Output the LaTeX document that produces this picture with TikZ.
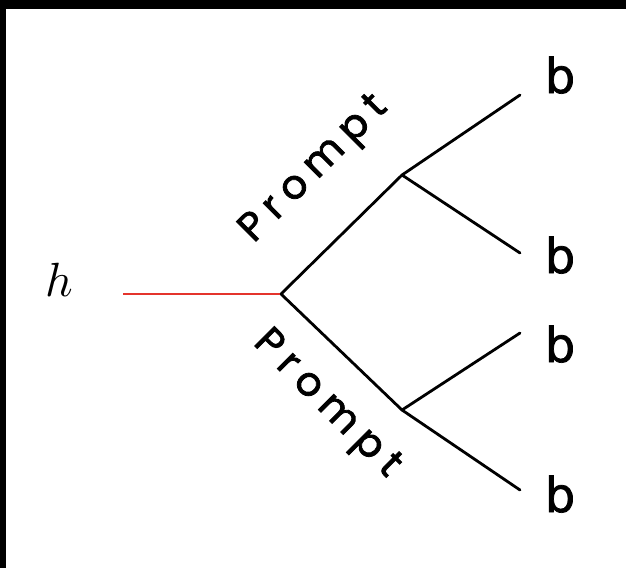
\documentclass[tikz,border=0pt]{standalone}
\usepackage{fontspec}
\usepackage{tikz}
\usetikzlibrary{positioning}
\usepackage{xcolor}
\newfontfamily\promptfont[LetterSpace=22,FakeBold=2]{Poppins}
\newfontfamily\leaffont[FakeBold=1.5]{DejaVu Sans}
\definecolor{rootred}{RGB}{228,52,44}

\begin{document}
\begin{tikzpicture}[x=1pt,y=-1pt,
	branch/.style={black,line width=2.8pt,line cap=round},
	leaflabel/.style={font=\leaffont\fontsize{48}{48}\selectfont,inner sep=0pt,anchor=base},
	promptlabel/.style={font=\promptfont\fontsize{40}{40}\selectfont,inner sep=0pt}]
		
		\useasboundingbox (0,0) rectangle (626,568);
		
		% frame
		\fill[black]
		(0,0) rectangle (626,9);
		\fill[black]
		(0,0) rectangle (6,568);
		
		\coordinate (start) at (123,294);
		\coordinate (root) at (281,294);
		\coordinate (upper) at (402,175);
		\coordinate (lower) at (402,410);
		\coordinate (uu) at (520,95);
		\coordinate (ul) at (520,253);
		\coordinate (lu) at (520,333);
		\coordinate (ll) at (520,490);
		
		\node[scale=4.8] (h) at (59,280)
		{$h$};
		
		\draw[rootred,line width=2pt]
		(start) -- (root);
		
		\draw[branch]
		(root) -- (upper);
		\draw[branch]
		(root) -- (lower);
		\draw[branch]
		(upper) -- (uu);
		\draw[branch]
		(upper) -- (ul);
		\draw[branch]
		(lower) -- (lu);
		\draw[branch]
		(lower) -- (ll);
		
		\node[leaflabel] (buu) at (560,93) {b};
		\node[leaflabel] (bul) at (560,273) {b};
		\node[leaflabel] (blu) at (560,362) {b};
		\node[leaflabel] (bll) at (560,512) {b};
		
		\node[promptlabel,rotate=45] (pup)
		at (315,170) {Prompt};
		
		\node[promptlabel,rotate=-45] (pdown)
		at (326,405) {Prompt};
		
	\end{tikzpicture}
\end{document}
